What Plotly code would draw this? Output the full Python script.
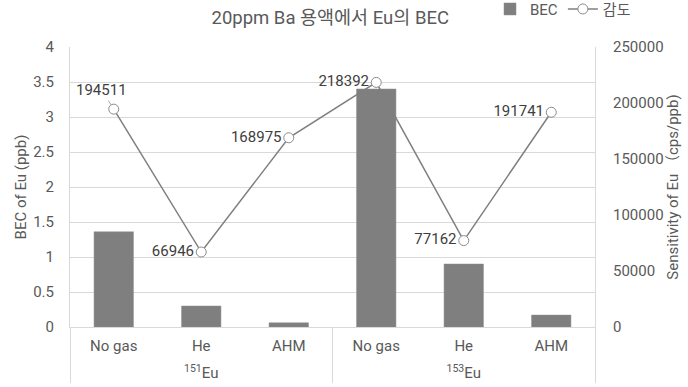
import plotly.graph_objects as go

# Isotope groups and gas modes for the two-level category axis
isotopes = ["<sup>151</sup>Eu"] * 3 + ["<sup>153</sup>Eu"] * 3
modes = ["No gas", "He", "AHM", "No gas", "He", "AHM"]

# BEC of Eu (ppb) per isotope / gas mode
bec = [1.36, 0.30, 0.06, 3.40, 0.90, 0.17]
# Sensitivity of Eu (cps/ppb)
sensitivity = [194511, 66946, 168975, 218392, 77162, 191741]

FONT = "Roboto, 'Noto Sans CJK KR', sans-serif"
TICK_COLOR = "#595959"
LABEL_COLOR = "#404040"
GRID = "#d9d9d9"

# a small raised spacer line under each gas-mode label widens the gap
# between the two label rows of the category axis
mode_labels = [m + "<br><sup>\u00a0</sup>" for m in modes]

# first point's label is drawn with a leader line; the rest sit left of the marker
point_text = [""] + [str(v) for v in sensitivity[1:]]

fig = go.Figure()

fig.add_trace(go.Bar(
    x=[isotopes, mode_labels], y=bec, name="BEC",
    marker=dict(color="#7f7f7f", line=dict(color="#8c8c8c", width=0.5)),
))

fig.add_trace(go.Scatter(
    x=[isotopes, mode_labels], y=sensitivity, name="감도", yaxis="y2",
    mode="lines+markers+text",
    line=dict(color="#7f7f7f", width=1.5),
    marker=dict(symbol="circle", size=10, color="white",
                line=dict(color="#8c8c8c", width=1)),
    text=point_text,
    textposition="middle left",
    textfont=dict(family=FONT, size=15, color=LABEL_COLOR),
    cliponaxis=False,
))

fig.add_annotation(
    x=0, y=sensitivity[0], xref="x", yref="y2",
    text=str(sensitivity[0]), showarrow=True,
    arrowhead=0, arrowwidth=1, arrowcolor="#a6a6a6",
    ax=-12, ay=-19, standoff=5,
    font=dict(family=FONT, size=15, color=LABEL_COLOR),
)

fig.update_layout(
    width=688, height=387,
    margin=dict(l=70, r=93, t=47, b=60, autoexpand=False),
    paper_bgcolor="white", plot_bgcolor="white",
    font=dict(family=FONT, size=15, color=TICK_COLOR),
    title=dict(text="20ppm Ba 용액에서 Eu의 BEC", x=0.48, xanchor="center",
               y=0.955, yanchor="middle",
               font=dict(family=FONT, size=18.5, color=TICK_COLOR)),
    bargap=0.55,
    showlegend=True,
    legend=dict(orientation="h", x=0.8, y=1.135, xanchor="left", yanchor="middle",
                font=dict(family=FONT, size=15, color=TICK_COLOR),
                itemwidth=30, tracegroupgap=0, bgcolor="rgba(0,0,0,0)"),
    xaxis=dict(type="multicategory", showgrid=False, showline=True,
               linecolor=GRID, linewidth=1, mirror=False,
               ticklabelstandoff=5,
               showdividers=True, dividercolor=GRID, dividerwidth=1,
               tickfont=dict(family=FONT, size=15, color=TICK_COLOR)),
    yaxis=dict(range=[0, 4], dtick=0.5, showgrid=True, gridcolor=GRID,
               showline=True, linecolor=GRID, zeroline=False,
               ticks="outside", ticklen=12, tickcolor="rgba(0,0,0,0)",
               tickfont=dict(family=FONT, size=15, color=TICK_COLOR),
               title=dict(text="BEC of Eu (ppb)", standoff=2,
                          font=dict(family=FONT, size=15, color=TICK_COLOR))),
    yaxis2=dict(range=[0, 250000], dtick=50000, overlaying="y", side="right",
                showgrid=False, showline=True, linecolor=GRID, zeroline=False,
                tickformat="d", exponentformat="none",
                ticks="outside", ticklen=14, tickcolor="rgba(0,0,0,0)",
                tickfont=dict(family=FONT, size=15, color=TICK_COLOR),
                title=dict(text="Sensitivity of Eu （cps/ppb)", standoff=2,
                           font=dict(family=FONT, size=15, color=TICK_COLOR))),
)

fig.write_html("out.html")
